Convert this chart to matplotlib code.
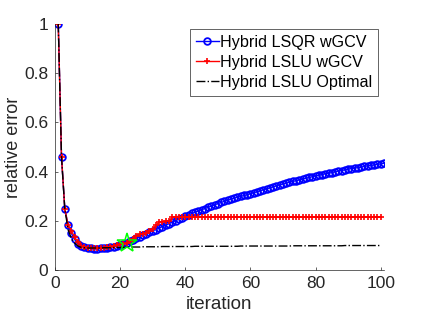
import matplotlib
matplotlib.use("Agg")
import matplotlib.pyplot as plt

plt.rcParams['font.family'] = ['Liberation Sans', 'DejaVu Sans']

# relative error per iteration
lsqr_wgcv = [1.0, 0.46, 0.25, 0.184, 0.15, 0.125, 0.108, 0.099, 0.093, 0.09,
             0.088, 0.087, 0.087, 0.088, 0.089, 0.091, 0.093, 0.096, 0.099, 0.103,
             0.107, 0.112, 0.118, 0.124, 0.13, 0.136, 0.142, 0.148, 0.154, 0.16,
             0.165, 0.171, 0.177, 0.183, 0.189, 0.195, 0.201, 0.207, 0.213, 0.219,
             0.224, 0.23, 0.235, 0.24, 0.245, 0.25, 0.255, 0.26, 0.265, 0.27,
             0.275, 0.279, 0.284, 0.288, 0.292, 0.296, 0.299, 0.303, 0.306, 0.31,
             0.314, 0.318, 0.322, 0.326, 0.33, 0.334, 0.338, 0.342, 0.346, 0.35,
             0.353, 0.357, 0.36, 0.363, 0.366, 0.369, 0.373, 0.376, 0.379, 0.382,
             0.385, 0.388, 0.391, 0.393, 0.396, 0.399, 0.402, 0.404, 0.407, 0.41,
             0.412, 0.414, 0.416, 0.418, 0.421, 0.423, 0.425, 0.427, 0.429, 0.431,
             0.434]

lslu_wgcv = [1.0, 0.46, 0.25, 0.184, 0.16, 0.135, 0.115, 0.1, 0.094, 0.091,
             0.09, 0.09, 0.09, 0.091, 0.092, 0.094, 0.096, 0.099, 0.102, 0.105,
             0.108, 0.112, 0.118, 0.126, 0.138, 0.145, 0.148, 0.152, 0.16, 0.168,
             0.182, 0.195, 0.197, 0.199, 0.201, 0.214, 0.216, 0.216, 0.216, 0.216,
             0.216, 0.216, 0.216, 0.216, 0.216, 0.216, 0.216, 0.216, 0.216, 0.216,
             0.216, 0.216, 0.216, 0.216, 0.216, 0.216, 0.216, 0.216, 0.216, 0.216,
             0.216, 0.216, 0.216, 0.216, 0.216, 0.216, 0.216, 0.216, 0.216, 0.216,
             0.216, 0.216, 0.216, 0.216, 0.216, 0.216, 0.216, 0.216, 0.216, 0.216,
             0.216, 0.216, 0.216, 0.216, 0.216, 0.216, 0.216, 0.216, 0.216, 0.216,
             0.216, 0.216, 0.216, 0.216, 0.216, 0.216, 0.216, 0.216, 0.216, 0.216]

lslu_opt = [1.0, 0.46, 0.25, 0.165, 0.13, 0.11, 0.098, 0.093, 0.091, 0.09,
            0.09, 0.09, 0.09, 0.09, 0.091, 0.091, 0.091, 0.092, 0.092, 0.092,
            0.093, 0.093, 0.094, 0.094, 0.094, 0.094, 0.095, 0.095, 0.095, 0.095,
            0.095, 0.095, 0.096, 0.096, 0.096, 0.096, 0.096, 0.096, 0.096, 0.096,
            0.096, 0.096, 0.097, 0.097, 0.097, 0.097, 0.097, 0.097, 0.097, 0.097,
            0.097, 0.097, 0.097, 0.097, 0.097, 0.097, 0.098, 0.098, 0.098, 0.098,
            0.098, 0.098, 0.098, 0.098, 0.098, 0.098, 0.098, 0.098, 0.098, 0.098,
            0.098, 0.098, 0.099, 0.099, 0.099, 0.099, 0.099, 0.099, 0.099, 0.099,
            0.099, 0.099, 0.099, 0.099, 0.099, 0.099, 0.099, 0.099, 0.1, 0.1,
            0.1, 0.1, 0.1, 0.1, 0.1, 0.1, 0.1, 0.1, 0.1, 0.1]

stop_iter = 22
stop_err = 0.112

it_lsqr = list(range(1, len(lsqr_wgcv) + 1))
it_lslu = list(range(1, len(lslu_wgcv) + 1))
it_opt = list(range(1, len(lslu_opt) + 1))

fig = plt.figure(figsize=(4.25, 3.19), dpi=100)
ax = fig.add_axes([0.1294, 0.153, 0.774, 0.773])

ax.plot(it_lsqr, lsqr_wgcv, 'b-o', lw=1, ms=4.8, mew=1.3, mfc='none',
        label='Hybrid LSQR wGCV')
ax.plot(it_lslu, lslu_wgcv, 'r-+', lw=1, ms=4.8, mew=1.2,
        label='Hybrid LSLU wGCV')
ax.plot(it_opt, lslu_opt, 'k-.', lw=1, label='Hybrid LSLU Optimal')
ax.plot([stop_iter], [stop_err], marker='*', ms=15, mfc='none', mec=(0, 1, 0),
        mew=1.1, ls='none', zorder=5)

ax.set_xlim(0, 101)
ax.set_ylim(0, 1)
ax.set_xticks([0, 20, 40, 60, 80, 100])
ax.set_yticks([0, 0.2, 0.4, 0.6, 0.8, 1])
ax.set_yticklabels(['0', '0.2', '0.4', '0.6', '0.8', '1'])
ax.tick_params(direction='in', length=2.5, width=0.5, colors='0.15',
               labelsize=12.5)
ax.tick_params(axis='x', pad=4)
ax.tick_params(axis='y', pad=5)
for side in ['top', 'right']:
    ax.spines[side].set_visible(False)
for side in ['left', 'bottom']:
    ax.spines[side].set_color('0.15')
    ax.spines[side].set_linewidth(0.5)

ax.set_xlabel('iteration', fontsize=13.5, color='0.15', labelpad=4)
ax.set_ylabel('relative error', fontsize=13, color='0.15')
ax.yaxis.set_label_coords(-0.1, 0.5)

leg = ax.legend(loc='upper right', bbox_to_anchor=(0.982, 0.978),
                borderaxespad=0, fontsize=11.6, handlelength=1.4,
                handletextpad=0.1, labelspacing=0.32, borderpad=0.35,
                fancybox=False, framealpha=1)
leg.get_frame().set_edgecolor('0.15')
leg.get_frame().set_linewidth(0.5)

fig.savefig('out.png', dpi=100)
